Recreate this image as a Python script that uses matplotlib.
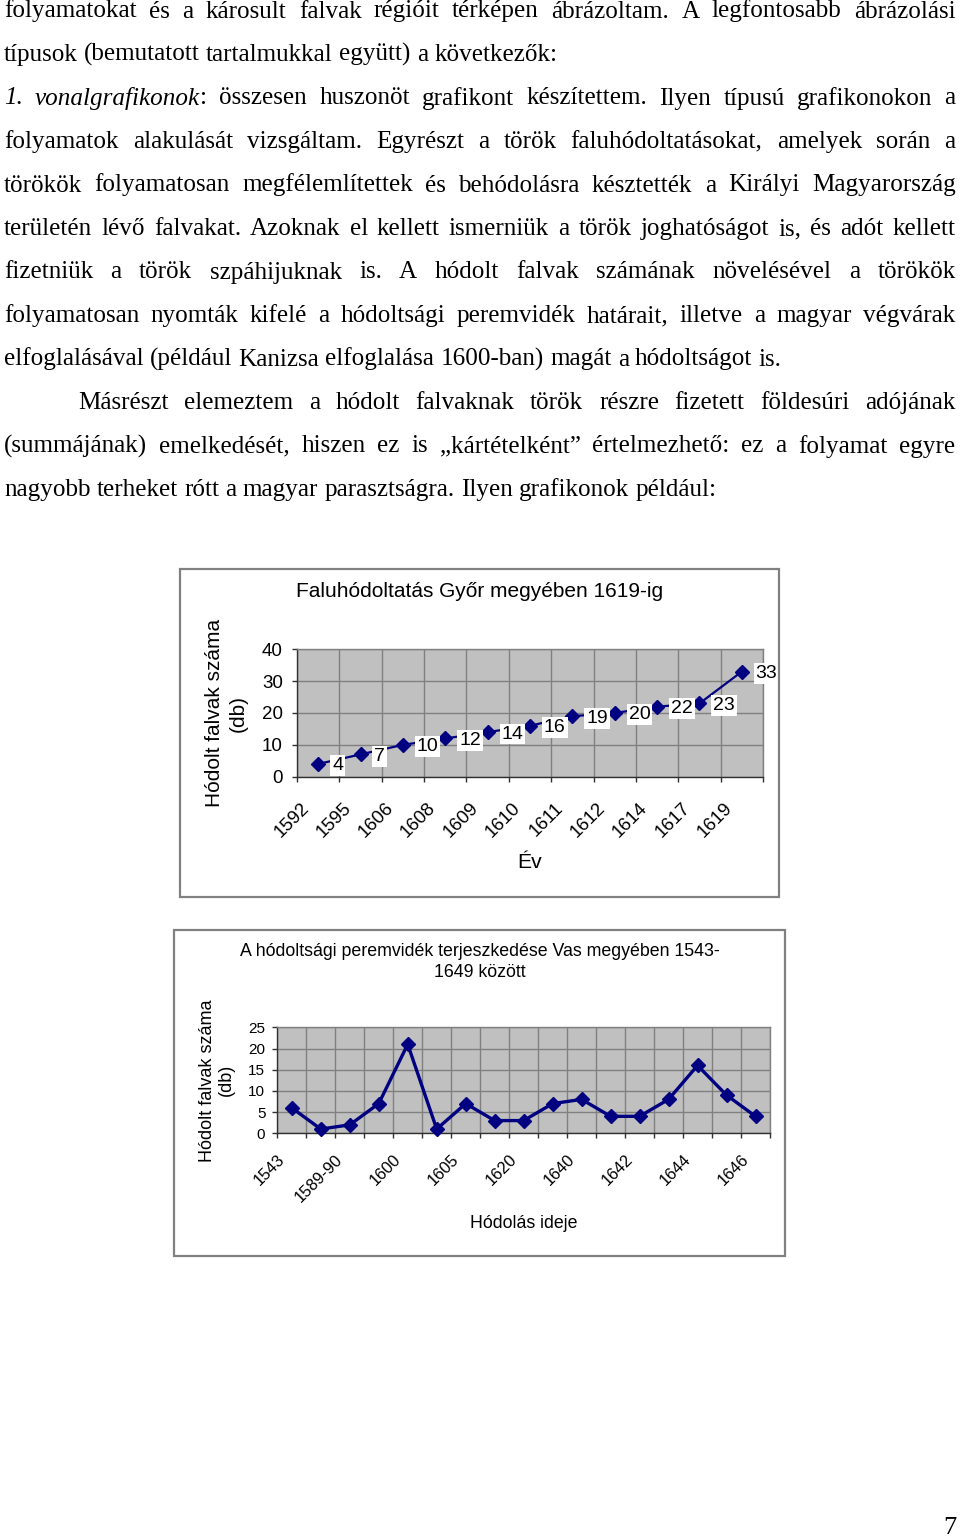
import matplotlib
matplotlib.use('Agg')
import matplotlib.pyplot as plt
from matplotlib.patches import Rectangle
from matplotlib.transforms import ScaledTranslation
import numpy as np

# ---------------- data ----------------
body_lines = [
    "folyamatokat és a károsult falvak régióit térképen ábrázoltam. A legfontosabb ábrázolási",
    "típusok (bemutatott tartalmukkal együtt) a következők:",
    "*1.* *vonalgrafikonok*: összesen huszonöt grafikont készítettem. Ilyen típusú grafikonokon a",
    "folyamatok alakulását vizsgáltam. Egyrészt a török faluhódoltatásokat, amelyek során a",
    "törökök folyamatosan megfélemlítettek és behódolásra késztették a Királyi Magyarország",
    "területén lévő falvakat. Azoknak el kellett ismerniük a török joghatóságot is, és adót kellett",
    "fizetniük a török szpáhijuknak is. A hódolt falvak számának növelésével a törökök",
    "folyamatosan nyomták kifelé a hódoltsági peremvidék határait, illetve a magyar végvárak",
    "elfoglalásával (például Kanizsa elfoglalása 1600-ban) magát a hódoltságot is.",
    "Másrészt elemeztem a hódolt falvaknak török részre fizetett földesúri adójának",
    "(summájának) emelkedését, hiszen ez is „kártételként” értelmezhető: ez a folyamat egyre",
    "nagyobb terheket rótt a magyar parasztságra. Ilyen grafikonok például:",
]
body_justified = [True, False, True, True, True, True, True, True, False, True, True, False]
body_indent = [False] * 9 + [True, False, False]
page_number = "7"

title1 = "Faluhódoltatás Győr megyében 1619-ig"
years1 = ['1592', '1595', '1606', '1608', '1609', '1610', '1611', '1612', '1614', '1617', '1619']
villages1 = [4, 7, 10, 12, 14, 16, 19, 20, 22, 23, 33]
yticks1 = [0, 10, 20, 30, 40]
ylabel1 = "Hódolt falvak száma\n(db)"
xlabel1 = "Év"

title2 = "A hódoltsági peremvidék terjeszkedése Vas megyében 1543-\n1649 között"
villages2 = [6, 1, 2, 7, 21, 1, 7, 3, 3, 7, 8, 4, 4, 8, 16, 9, 4]
tick_labels2 = ['1543', '1589-90', '1600', '1605', '1620', '1640', '1642', '1644', '1646']
yticks2 = [0, 5, 10, 15, 20, 25]
ylabel2 = "Hódolt falvak száma\n(db)"
xlabel2 = "Hódolás ideje"

# ---------------- figure ----------------
W, H = 960, 1537
fig = plt.figure(figsize=(W / 100, H / 100), dpi=100)
SERIF = 'Liberation Serif'
SANS = 'Liberation Sans'
NAVY = '#000080'


def fx(x):
    return x / W


def fy(y):
    return 1 - y / H


renderer = fig.canvas.get_renderer()


def text_width(s, fs, style='normal'):
    t = fig.text(0, 0, s, fontsize=fs, family=SERIF, style=style)
    w = t.get_window_extent(renderer).width
    t.remove()
    return w


# body font size fitted to the width of an unjustified line
fs_body = 20 * 778 / text_width(body_lines[8], 20)

LEFT, RIGHT = 4, 955.5
BASE0, STEP = 17.5, 43.5


def parse_word(word):
    pieces = []
    italic = False
    cur = ''
    for ch in word:
        if ch == '*':
            if cur:
                pieces.append((cur, 'italic' if italic else 'normal'))
            cur = ''
            italic = not italic
        else:
            cur += ch
    if cur:
        pieces.append((cur, 'italic' if italic else 'normal'))
    return pieces


for i, line in enumerate(body_lines):
    y = BASE0 + i * STEP
    x0 = 78 if body_indent[i] else LEFT
    words = [parse_word(w) for w in line.split(' ')]
    widths = [[text_width(p, fs_body, st) for p, st in wd] for wd in words]
    total = sum(sum(w) for w in widths)
    if body_justified[i]:
        gap = (RIGHT - x0 - total) / (len(words) - 1)
    else:
        gap = text_width('a a', fs_body) - 2 * text_width('a', fs_body)
    x = x0
    for wd, ws in zip(words, widths):
        for (p, st), w in zip(wd, ws):
            fig.text(fx(x), fy(y), p, fontsize=fs_body, family=SERIF, style=st,
                     ha='left', va='baseline')
            x += w
        x += gap

fig.text(fx(950), fy(1534), page_number, fontsize=fs_body * 1.05, family=SERIF,
         ha='center', va='baseline')

# ---------------- chart boxes ----------------
for (x0, y0, x1, y1) in [(179.5, 569, 779, 897.3), (174, 930, 785, 1256)]:
    fig.add_artist(Rectangle((fx(x0), fy(y1)), fx(x1) - fx(x0), (y1 - y0) / H,
                             transform=fig.transFigure, fill=False,
                             edgecolor='#808080', lw=1.6))


def style_axes(ax, n, yticks, tick_fs, ypad, xpad):
    ax.set_facecolor('#C0C0C0')
    ax.set_xlim(-0.5, n - 0.5)
    ax.set_ylim(yticks[0], yticks[-1])
    ax.set_yticks(yticks)
    ax.set_xticks(np.arange(-0.5, n, 1.0), minor=True)
    ax.grid(True, which='minor', axis='x', color='#808080', lw=1)
    ax.grid(True, which='major', axis='y', color='#808080', lw=1)
    ax.set_axisbelow(True)
    for s in ['left', 'bottom']:
        ax.spines[s].set_color('#303030')
        ax.spines[s].set_linewidth(1.0)
    for s in ['top', 'right']:
        ax.spines[s].set_color('#808080')
        ax.spines[s].set_linewidth(1.0)
    ax.tick_params(axis='y', which='major', length=3.6, width=1, color='#303030',
                   pad=ypad, labelsize=tick_fs)
    ax.tick_params(axis='x', which='minor', length=3.6, width=1, color='#303030')
    ax.tick_params(axis='x', which='major', length=0, pad=xpad)
    for lbl in ax.get_yticklabels():
        lbl.set_family(SANS)


# ---------------- chart 1 ----------------
ax1 = fig.add_axes([fx(297), fy(776.7), fx(763) - fx(297), (776.7 - 649.3) / H])
x1 = np.arange(len(years1))
ax1.plot(x1, villages1, color=NAVY, lw=1.6, marker='D', ms=6.8, mfc=NAVY, mec=NAVY,
         clip_on=False, zorder=3)
style_axes(ax1, len(years1), yticks1, 13.5, 6.5, 16.5)
ax1.set_xticks(x1)
ax1.set_xticklabels(years1, rotation=45, ha='right', fontsize=13.4, family=SANS)
for xi, v in zip(x1, villages1):
    ax1.annotate(str(v), (xi, v), xytext=(10.0, -1.4), textcoords='offset points',
                 ha='left', va='center', fontsize=14, family=SANS, zorder=4,
                 bbox=dict(boxstyle='square,pad=0.1', facecolor='white', edgecolor='none'))
ax1.set_ylabel(ylabel1, fontsize=15, family=SANS, linespacing=1.3, va='center')
ax1.yaxis.set_label_coords((226.5 - 297) / (763 - 297), 0.5)
ax1.set_xlabel(xlabel1, fontsize=15.2, family=SANS, va='center')
ax1.xaxis.set_label_coords(0.5, -(862 - 776.7) / (776.7 - 649.3))
fig.text(fx(479.5), fy(592), title1, fontsize=15, family=SANS, ha='center', va='center')

# ---------------- chart 2 ----------------
ax2 = fig.add_axes([fx(277.3), fy(1133.3), fx(770) - fx(277.3), (1133.3 - 1027.3) / H])
x2 = np.arange(len(villages2))
ax2.plot(x2, villages2, color=NAVY, lw=2.4, marker='D', ms=7.4, mfc=NAVY, mec=NAVY,
         clip_on=False, zorder=3)
style_axes(ax2, len(villages2), yticks2, 11, 5.0, 13.5)
ax2.set_xticks(x2[::2])
ax2.set_xticklabels(tick_labels2, rotation=45, ha='right', fontsize=11.8, family=SANS)
ax2.set_ylabel(ylabel2, fontsize=13, family=SANS, linespacing=1.2, va='center')
ax2.yaxis.set_label_coords((217 - 277.3) / (770 - 277.3), 0.5)
ax2.set_xlabel(xlabel2, fontsize=12.8, family=SANS, va='center')
ax2.xaxis.set_label_coords(0.5, -(1224 - 1133.3) / (1133.3 - 1027.3))
fig.text(fx(480), fy(962), title2, fontsize=12.8, family=SANS, ha='center', va='center',
         linespacing=1.25)

# shift rotated x labels slightly left (text end sits just left of the category centre)
for ax, dx in [(ax1, -6), (ax2, -4)]:
    for t in ax.xaxis.get_major_ticks():
        t.label1.set_transform(t.label1.get_transform() +
                               ScaledTranslation(dx / 100, 0, fig.dpi_scale_trans))

fig.savefig('out.png', dpi=100, facecolor='white')
